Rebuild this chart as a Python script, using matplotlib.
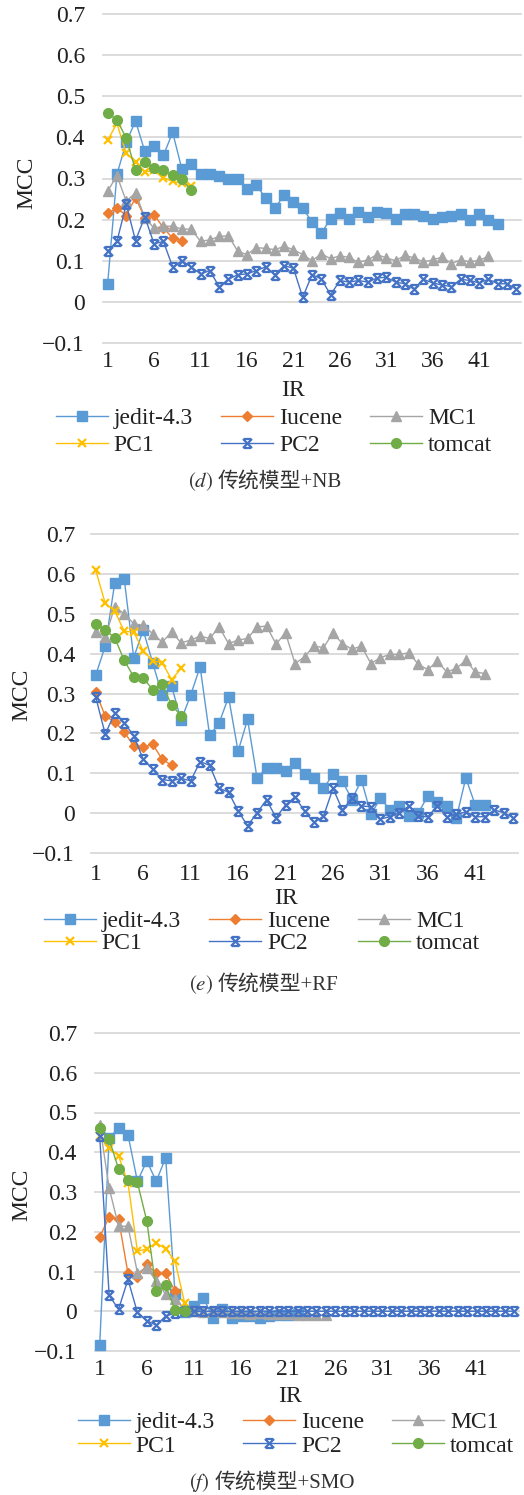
"""MCC vs IR for traditional models (NB / RF / SMO), three stacked panels."""

import matplotlib
matplotlib.use("Agg")
import matplotlib.pyplot as plt
from matplotlib.path import Path

plt.rcParams["font.family"] = ["Liberation Serif", "Noto Sans CJK SC"]
plt.rcParams["mathtext.fontset"] = "stix"

W, H = 524, 1495
FS = 17

SERIES = ["jedit-4.3", "Iucene", "MC1", "PC1", "PC2", "tomcat"]
COLORS = ["#5B9BD5", "#ED7D31", "#A5A5A5", "#FFC000", "#4472C4", "#70AD47"]
IR_TICKS = [1, 6, 11, 16, 21, 26, 31, 36, 41]
Y_TICKS = [-0.1, 0.0, 0.1, 0.2, 0.3, 0.4, 0.5, 0.6, 0.7]
Y_LABELS = ["\u22120.1", "0", "0.1", "0.2", "0.3", "0.4", "0.5", "0.6", "0.7"]

# (d) NB
nb_jedit = [0.044, 0.31, 0.388, 0.44, 0.366, 0.378, 0.356, 0.412, 0.322, 0.336,
            0.312, 0.312, 0.307, 0.298, 0.298, 0.275, 0.285, 0.252, 0.228, 0.259,
            0.242, 0.228, 0.194, 0.167, 0.202, 0.216, 0.202, 0.219, 0.207, 0.219,
            0.216, 0.202, 0.214, 0.214, 0.21, 0.202, 0.207, 0.21, 0.214, 0.198,
            0.214, 0.198, 0.19]
nb_lucene = [0.216, 0.228, 0.21, 0.253, 0.205, 0.212, 0.18, 0.155, 0.149]
nb_mc1 = [0.269, 0.307, 0.245, 0.265, 0.205, 0.179, 0.184, 0.184, 0.177, 0.177,
          0.147, 0.151, 0.159, 0.161, 0.123, 0.115, 0.132, 0.13, 0.127, 0.135,
          0.127, 0.115, 0.1, 0.117, 0.105, 0.112, 0.108, 0.096, 0.102, 0.115,
          0.107, 0.1, 0.113, 0.107, 0.097, 0.102, 0.109, 0.093, 0.102, 0.097,
          0.101, 0.111]
nb_pc1 = [0.393, 0.434, 0.361, 0.341, 0.316, 0.32, 0.302, 0.293, 0.289, 0.281]
nb_pc2 = [0.123, 0.147, 0.237, 0.149, 0.207, 0.141, 0.147, 0.085, 0.1, 0.085,
          0.068, 0.076, 0.037, 0.055, 0.066, 0.068, 0.076, 0.085, 0.066, 0.088,
          0.082, 0.011, 0.066, 0.056, 0.017, 0.052, 0.048, 0.052, 0.048, 0.058,
          0.06, 0.048, 0.044, 0.031, 0.055, 0.046, 0.041, 0.037, 0.055, 0.052,
          0.046, 0.055, 0.044, 0.044, 0.031]
nb_tomcat = [0.46, 0.442, 0.399, 0.32, 0.341, 0.326, 0.32, 0.308, 0.298, 0.271]

# (e) RF
rf_jedit = [0.346, 0.419, 0.577, 0.588, 0.39, 0.459, 0.377, 0.296, 0.318, 0.233,
            0.296, 0.367, 0.195, 0.226, 0.291, 0.155, 0.235, 0.088, 0.114, 0.114,
            0.105, 0.125, 0.098, 0.089, 0.062, 0.097, 0.08, 0.034, 0.083, -0.003,
            0.037, 0.009, 0.018, -0.008, 0.001, 0.043, 0.028, 0.018, -0.012, 0.088,
            0.02, 0.02]
rf_lucene = [0.304, 0.243, 0.229, 0.204, 0.168, 0.165, 0.173, 0.135, 0.12]
rf_mc1 = [0.454, 0.442, 0.517, 0.5, 0.475, 0.471, 0.45, 0.429, 0.454, 0.427,
          0.434, 0.444, 0.438, 0.467, 0.425, 0.434, 0.438, 0.467, 0.469, 0.424,
          0.452, 0.375, 0.392, 0.419, 0.415, 0.452, 0.425, 0.411, 0.419, 0.375,
          0.39, 0.398, 0.398, 0.402, 0.373, 0.36, 0.381, 0.354, 0.363, 0.383,
          0.354, 0.35]
rf_pc1 = [0.609, 0.526, 0.507, 0.456, 0.454, 0.407, 0.382, 0.377, 0.335, 0.363]
rf_pc2 = [0.291, 0.198, 0.251, 0.227, 0.194, 0.135, 0.11, 0.084, 0.081, 0.087,
          0.081, 0.129, 0.12, 0.063, 0.052, 0.006, -0.032, 0.001, 0.033, -0.011,
          0.02, 0.041, 0.005, -0.023, -0.008, 0.062, 0.008, 0.037, 0.018, 0.016,
          -0.015, -0.009, 0.001, 0.018, -0.008, -0.009, 0.018, -0.009, -0.003, 0.003,
          -0.009, -0.009, 0.008, 0.001, -0.011]
rf_tomcat = [0.475, 0.459, 0.44, 0.383, 0.342, 0.339, 0.31, 0.323, 0.271, 0.244]

# (f) SMO
smo_jedit = [-0.085, 0.436, 0.461, 0.444, 0.327, 0.378, 0.327, 0.386, 0.043, -0.003,
             0.013, 0.034, -0.016, 0.005, -0.016, -0.012, -0.012, -0.016, -0.012, -0.01,
             -0.01, -0.008]
smo_lucene = [0.187, 0.237, 0.233, 0.095, 0.085, 0.118, 0.095, 0.095, 0.051]
smo_mc1 = [0.469, 0.31, 0.214, 0.214, 0.097, 0.11, 0.075, 0.043, 0.03, 0.007,
           0.0, -0.002, 0.0, -0.003, -0.005, -0.004, -0.006, -0.005, -0.007, -0.008,
           -0.008, -0.01, -0.01, -0.01, -0.01]
smo_pc1 = [0.44, 0.41, 0.391, 0.323, 0.151, 0.157, 0.172, 0.157, 0.126, 0.022]
smo_pc2 = [0.44, 0.04, 0.005, 0.08, -0.003, -0.024, -0.035, -0.012, -0.005, 0.0,
           0.0, 0.0, 0.0, 0.0, 0.0, 0.0, 0.0, 0.0, 0.0, 0.0,
           0.0, 0.0, 0.0, 0.0, 0.0, 0.0, 0.0, 0.0, 0.0, 0.0,
           0.0, 0.0, 0.0, 0.0, 0.0, 0.0, 0.0, 0.0, 0.0, 0.0,
           0.0, 0.0, 0.0, 0.0, 0.0]
smo_tomcat = [0.461, 0.433, 0.358, 0.331, 0.324, 0.227, 0.051, 0.065, 0.003, 0.001]

# x with caps, like Excel's "star" marker
STAR = Path([(-1, -1), (1, 1), (-1, 1), (1, -1), (-0.8, 1), (0.8, 1), (-0.8, -1), (0.8, -1)],
            [Path.MOVETO, Path.LINETO] * 4)
MARKERS = [("s", 6.5, 1), ("D", 5.5, 1), ("^", 7, 1), ("x", 6, 1.6), (STAR, 6.5, 1.6), ("o", 7, 1)]

# pixel layout: axes (left, top, right, bottom), ylabel, xlabel, legend centre, caption
panels = [
    dict(data=[nb_jedit, nb_lucene, nb_mc1, nb_pc1, nb_pc2, nb_tomcat],
         box=(103, 14, 521, 343), ylab=(27, 183), xlab=(293, 390), leg=(274, 432),
         lsp=0.25, ypad=13, xpad=6, cap=("d", 213, 482, "传统模型+NB")),
    dict(data=[rf_jedit, rf_lucene, rf_mc1, rf_pc1, rf_pc2, rf_tomcat],
         box=(91, 534, 518, 853), ylab=(22, 695), xlab=(286, 898), leg=(262, 932),
         lsp=0.02, ypad=11.5, xpad=8, cap=("e", 213, 985, "传统模型+RF")),
    dict(data=[smo_jedit, smo_lucene, smo_mc1, smo_pc1, smo_pc2, smo_tomcat],
         box=(95, 1033, 519, 1351), ylab=(22, 1195), xlab=(290, 1397), leg=(296, 1434),
         lsp=0.1, ypad=13, xpad=6, cap=("f", 210, 1483, "传统模型+SMO")),
]

fig = plt.figure(figsize=(W / 100, H / 100), dpi=100)

for p in panels:
    l, t, r, b = p["box"]
    ax = fig.add_axes([l / W, 1 - b / H, (r - l) / W, (b - t) / H])
    handles = []
    for name, vals, col, (mk, ms, mew) in zip(SERIES, p["data"], COLORS, MARKERS):
        x = list(range(1, len(vals) + 1))
        face = "none" if mk is STAR else col
        h, = ax.plot(x, vals, color=col, lw=1.0, marker=mk, ms=ms, mew=mew,
                     mfc=face, mec=col, label=name, clip_on=False)
        handles.append(h)

    ax.set_xlim(0.5, 45.5)
    ax.set_ylim(-0.1, 0.7)
    ax.set_xticks(IR_TICKS)
    ax.set_yticks(Y_TICKS)
    ax.set_yticklabels(Y_LABELS)
    ax.tick_params(axis="both", length=0, labelsize=FS, colors="#222222")
    ax.tick_params(axis="y", pad=p["ypad"])
    ax.tick_params(axis="x", pad=p["xpad"])
    ax.grid(axis="y", color="#D9D9D9", lw=1.3)
    ax.set_axisbelow(True)
    for s in ax.spines.values():
        s.set_visible(False)
    for gl in ax.get_ygridlines():
        gl.set_clip_on(False)

    fig.text(p["ylab"][0] / W, 1 - p["ylab"][1] / H, "MCC", rotation=90,
             ha="center", va="center", fontsize=FS, color="#222222")
    fig.text(p["xlab"][0] / W, 1 - p["xlab"][1] / H, "IR",
             ha="center", va="center", fontsize=FS, color="#222222")

    order = [0, 3, 1, 4, 2, 5]
    fig.legend([handles[i] for i in order], [SERIES[i] for i in order],
               loc="center", bbox_to_anchor=(p["leg"][0] / W, 1 - p["leg"][1] / H),
               ncol=3, frameon=False, fontsize=FS, handlelength=2.2,
               handletextpad=0.25, columnspacing=1.2, labelspacing=p["lsp"],
               borderpad=0, labelcolor="#222222")

    letter, xs, yc, rest = p["cap"]
    fig.text(xs / W, 1 - yc / H, f"$({letter})$", ha="right", va="center",
             fontsize=15, color="#333333")
    fig.text((xs + 5) / W, 1 - yc / H, rest, ha="left", va="center",
             fontsize=15, color="#333333")

fig.savefig("out.png", dpi=100)
